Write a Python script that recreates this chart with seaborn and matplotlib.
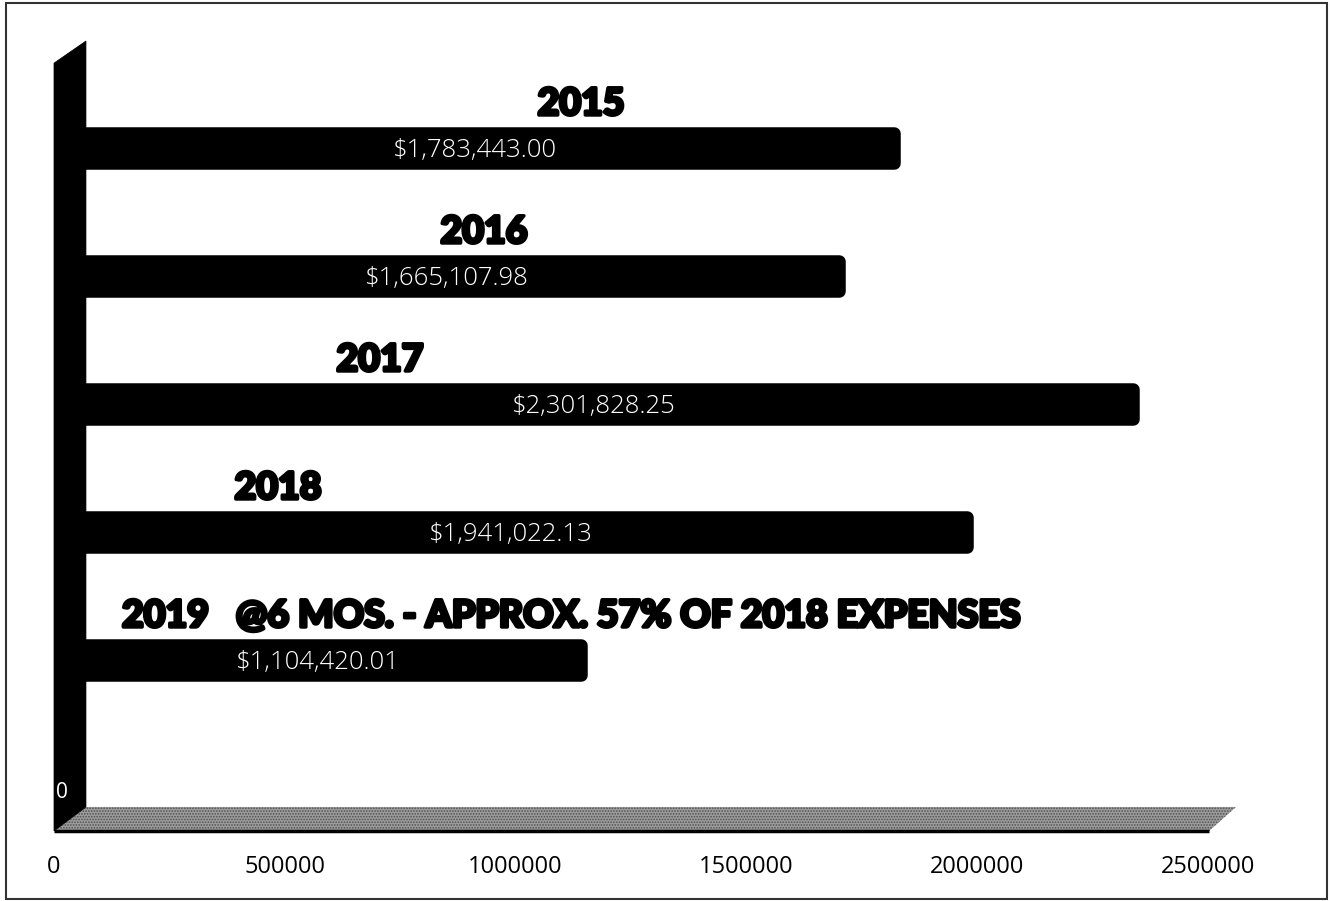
import matplotlib
matplotlib.use("Agg")
import matplotlib.pyplot as plt
import matplotlib.transforms as mtransforms
import matplotlib.patheffects as pe
from matplotlib import font_manager as fm
from matplotlib.patches import Polygon, Rectangle
import numpy as np
import pandas as pd
import seaborn as sns

# ---------------- data ----------------
years = ["2015", "2016", "2017", "2018", "2019"]
expenses = [1783443.00, 1665107.98, 2301828.25, 1941022.13, 1104420.01]
year_labels = ["2015", "2016", "2017", "2018",
               "2019   @6 MOS. - APPROX. 57% OF 2018 EXPENSES"]
value_labels = ["$1,783,443.00", "$1,665,107.98", "$2,301,828.25",
                "$1,941,022.13", "$1,104,420.01"]
x_ticks = [0, 500000, 1000000, 1500000, 2000000, 2500000]
x_tick_labels = ["0", "500000", "1000000", "1500000", "2000000", "2500000"]

# ---------------- layout (label anchors) ----------------
label_x = [1141700, 931500, 706200, 485300, 147300]
label_ha = ["center", "center", "center", "center", "left"]

# ---------------- fonts ----------------
names = {f.name for f in fm.fontManager.ttflist}
if "Liberation Sans Narrow" in names:
    heavy_font, heavy_weight = "Liberation Sans Narrow", "bold"
elif "Lato" in names:
    heavy_font, heavy_weight = "Lato", "black"
else:
    heavy_font, heavy_weight = "DejaVu Sans", "bold"
light_font = "Open Sans" if "Open Sans" in names else "DejaVu Sans"
tick_font = "Open Sans" if "Open Sans" in names else "DejaVu Sans"

sns.set_theme(style="white")
plt.rcParams["font.family"] = [tick_font, "DejaVu Sans"]
plt.rcParams["hatch.linewidth"] = 0.8

W, H = 1330, 901
fig = plt.figure(figsize=(W / 100, H / 100), dpi=100)
fig.patch.set_facecolor("white")
ax = fig.add_axes([54 / W, 1 - 831 / H, 1154 / W, 790 / H])
ax.set_facecolor("white")

# bar outline width (pt) used to round the bar ends
edge_pt = 9
edge_px = edge_pt * 100 / 72
bar_w = (42 - edge_px) / 128

df = pd.DataFrame({"year": years, "expense": expenses})
sns.barplot(data=df, x="expense", y="year", orient="h", color="black",
            width=bar_w, saturation=1, edgecolor="none", ax=ax, zorder=2)

ax.set_xlim(0, 2500000)
ax.set_ylim((831 - 148) / 128, (41 - 148) / 128)

# perspective shift of the bars' front faces and rounded ends
shift = mtransforms.ScaledTranslation((23 - edge_px / 2) / 100, 0,
                                      fig.dpi_scale_trans)
for p in list(ax.patches):
    p.set_transform(ax.transData + shift)
    p.set_edgecolor("black")
    p.set_linewidth(edge_pt)
    p.set_joinstyle("round")

# back wall (3D style)
wall = Polygon([(0, 0), (0, 0.972), (0.0277, 1.0), (0.0277, 0.0304)],
               closed=True, transform=ax.transAxes, facecolor="black",
               edgecolor="black", lw=0.5, zorder=3, clip_on=False)
ax.add_patch(wall)
# floor
floor = Polygon([(0, 0), (0.0277, 0.0304), (1.0243, 0.0304), (1.0009, 0)],
                closed=True, transform=ax.transAxes, facecolor="#9c9c9c",
                edgecolor="#505050", hatch="......", lw=0, zorder=1.5,
                clip_on=False)
ax.add_patch(floor)
ax.plot([0, 1.0009], [0, 0], transform=ax.transAxes, color="black",
        lw=2.5, zorder=3, clip_on=False, solid_capstyle="butt")

ax.text(0.0069, 0.049, "0", transform=ax.transAxes, color="white",
        ha="center", va="center", fontsize=15, family=tick_font, zorder=5)

# axes decoration
ax.set_xticks(x_ticks)
ax.set_xticklabels(x_tick_labels, fontsize=17, family=tick_font,
                   fontweight="medium", color="black")
ax.tick_params(axis="x", length=0, pad=17)
ax.set_yticks([])
ax.set_xlabel("")
ax.set_ylabel("")
for s in ax.spines.values():
    s.set_visible(False)

# year labels
thick = [pe.withStroke(linewidth=2.5, foreground="black")]
ylabels = []
for i, lab in enumerate(year_labels):
    t = ax.text(label_x[i], i - 0.258, lab, ha=label_ha[i], va="baseline",
                fontsize=30, fontweight=heavy_weight, family=heavy_font,
                color="black", zorder=4, path_effects=thick)
    ylabels.append(t)

# value labels
val_tr = ax.transData + mtransforms.ScaledTranslation(9 / 100, -3 / 100,
                                                      fig.dpi_scale_trans)
vlabels = []
for i, (v, lab) in enumerate(zip(expenses, value_labels)):
    t = ax.text(v / 2, i, lab, ha="center", va="center", color="white",
                fontsize=14, fontweight="light", family=light_font,
                transform=val_tr, zorder=4)
    vlabels.append(t)

# fit the text sizes to the reference widths
fig.canvas.draw()
r = fig.canvas.get_renderer()
w = ylabels[-1].get_window_extent(r).width
fs = 30 * 897 / w
for t in ylabels:
    t.set_fontsize(fs)
w = vlabels[0].get_window_extent(r).width
fs2 = 14 * 165 / w
for t in vlabels:
    t.set_fontsize(fs2)

# figure frame
fig.add_artist(Rectangle((6 / W, 1 - 899 / H), (1327 - 6) / W, (899 - 3) / H,
                         transform=fig.transFigure, fill=False, lw=1.5,
                         ec="#333333"))

fig.savefig("out.png", dpi=100, facecolor="white")
